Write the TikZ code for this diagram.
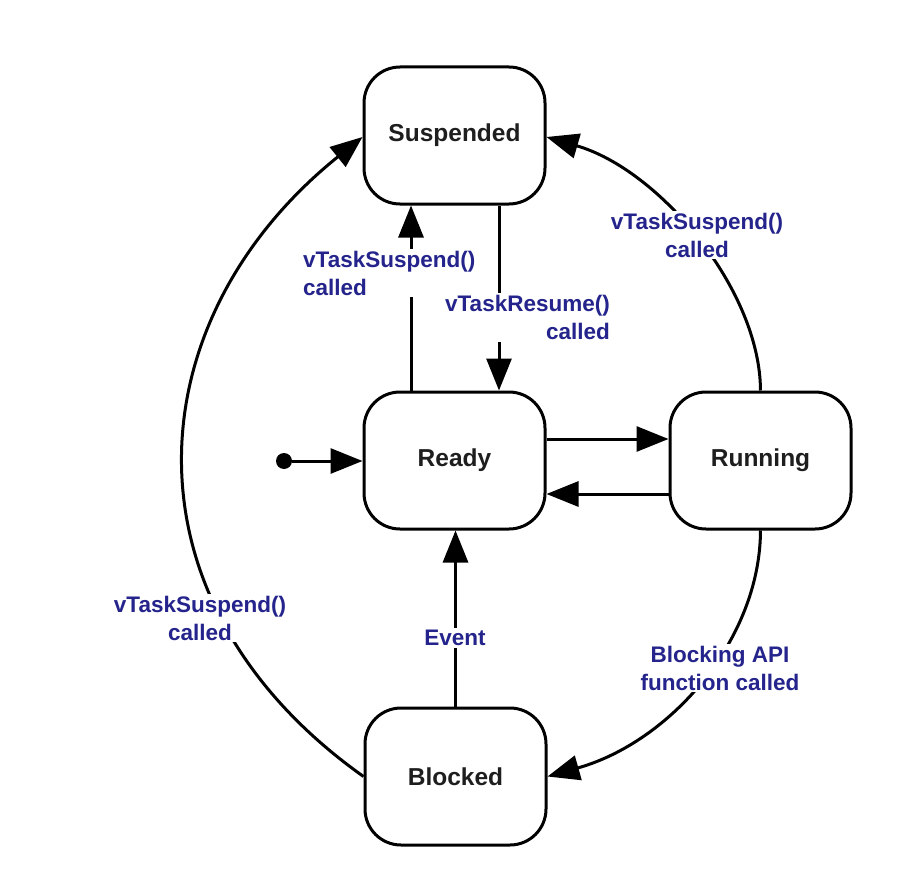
\documentclass[tikz,border=0pt]{standalone}
\usepackage{fontspec}
\setmainfont{Liberation Sans}
\usetikzlibrary{arrows.meta}
\definecolor{lblue}{RGB}{36,36,140}
\definecolor{stext}{RGB}{30,30,30}
\tikzset{
  statebox/.style={draw, line width=3pt, rounded corners=36pt, minimum width=181pt, minimum height=137pt,
    font=\fontsize{24.5}{28}\selectfont\bfseries, text=stext, fill=white},
  conn/.style={line width=3pt},
  arr/.style={conn, -{Triangle[length=32pt,width=25pt]}},
  lbl/.style={fill=white, inner sep=2pt, text=lblue, font=\fontsize{22.5}{28}\selectfont\bfseries}
}
\begin{document}
\begin{tikzpicture}[x=1pt,y=-1pt]
\useasboundingbox (0,0) rectangle (916,880);
\node[statebox] (sus) at (454.5,135.5) {Suspended};
\node[statebox] (rdy) at (454.5,460.5) {Ready};
\node[statebox] (run) at (760.5,460.5) {Running};
\node[statebox] (blk) at (455.5,776.5) {Blocked};
\node[circle, fill=black, inner sep=0pt, minimum size=16pt] (init) at (284,461) {};

% connectors
\draw[arr] (init) -- (rdy.west |- init);
\draw[arr] ([xshift=-43.5pt]rdy.north) -- ([xshift=-43.5pt]sus.south);
\draw[arr] ([xshift=44.5pt]sus.south) -- ([xshift=44.5pt]rdy.north);
\draw[arr] ([yshift=21.5pt]rdy.east) -- ([yshift=21.5pt]run.west);
\draw[arr] ([yshift=-33.5pt]run.west) -- ([yshift=-33.5pt]rdy.east);
\draw[arr] (blk.north) -- (blk.north |- rdy.south);
\draw[arr] (run.north) .. controls (760,290) and (660,170) .. (sus.east |- 0,137);
\draw[arr] (run.south) .. controls (760,640) and (670,742) .. (blk.east);
\draw[arr] (blk.west) .. controls (115,600) and (135,320) .. (sus.west |- 0,137);

% labels
\node[lbl, align=left, anchor=west] (l1) at (301,273) {vTaskSuspend()\\called};
\node[lbl, align=right, anchor=east] (l2) at (612,317.5) {vTaskResume()\\called};
\node[lbl, align=center] (l3) at (697,235) {vTaskSuspend()\\called};
\node[lbl, align=center] (l4) at (720,668) {Blocking API\\function called};
\node[lbl, align=center] (l5) at (200,618) {vTaskSuspend()\\called};
\node[lbl] (l6) at (455,638) {Event};
\end{tikzpicture}
\end{document}
